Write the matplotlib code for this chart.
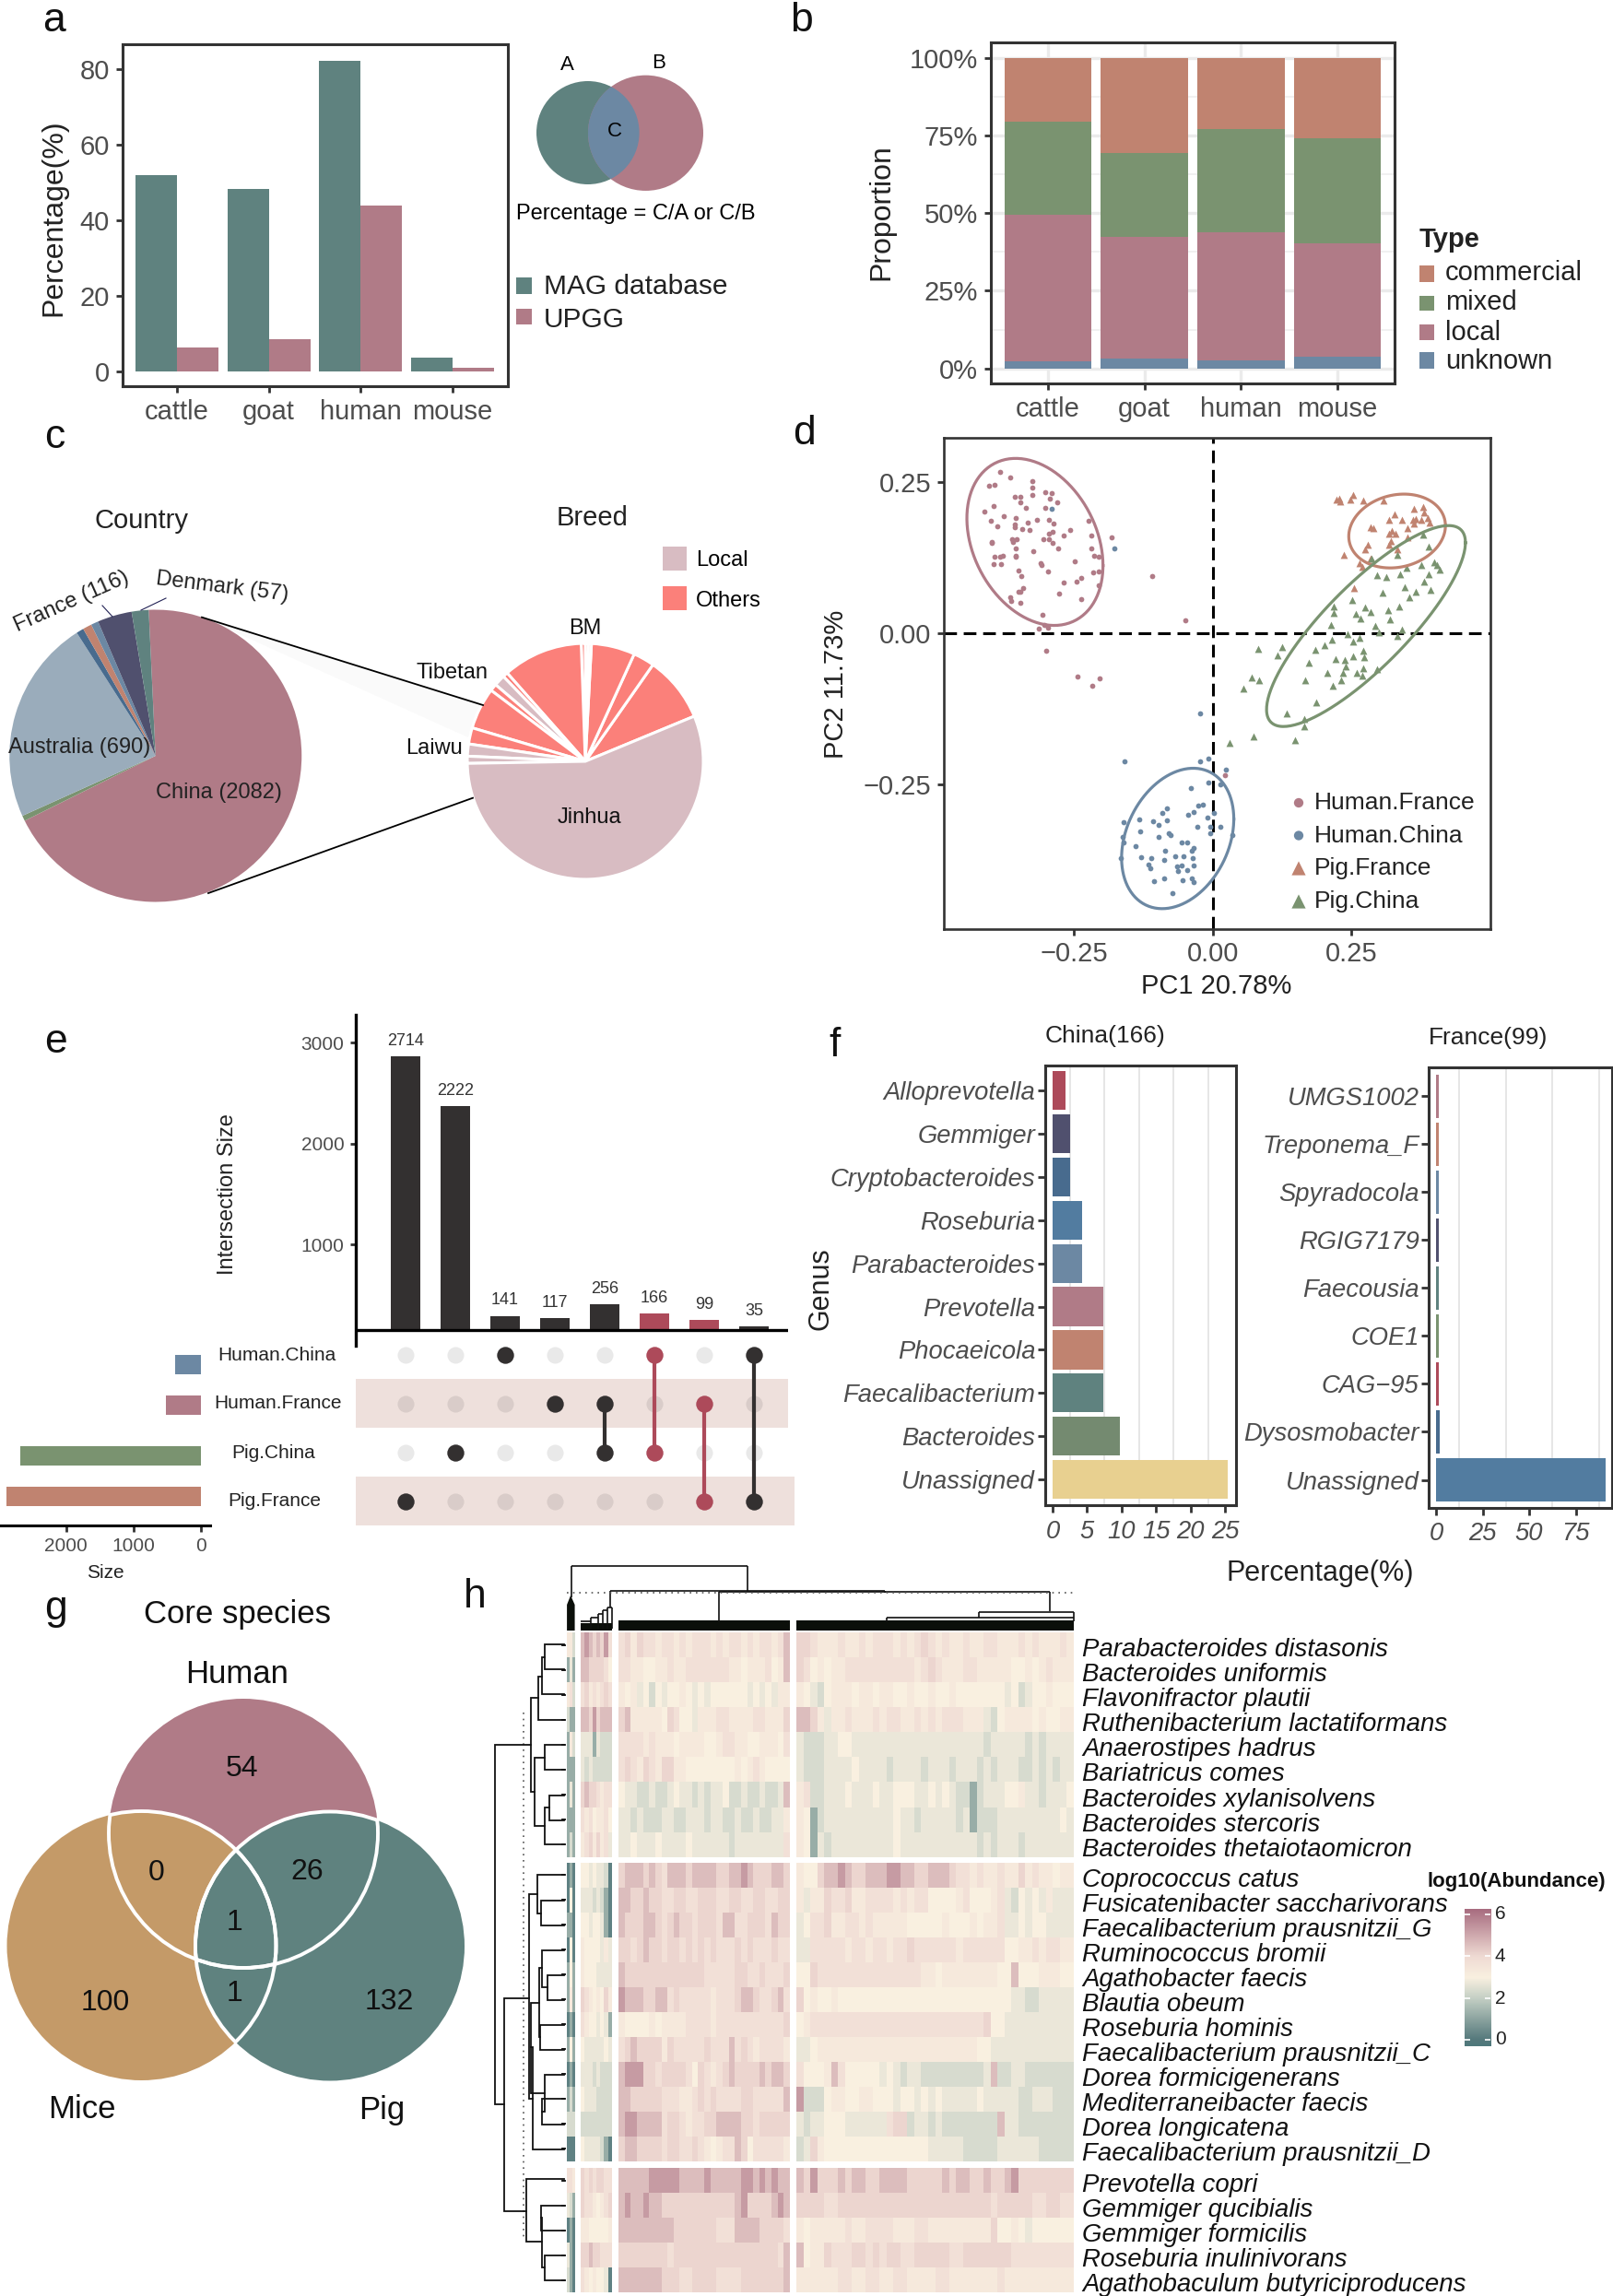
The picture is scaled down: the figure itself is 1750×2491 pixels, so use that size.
import numpy as np
import matplotlib
matplotlib.use('Agg')
import matplotlib.pyplot as plt
from matplotlib.patches import Circle, Ellipse, Rectangle, Polygon
from matplotlib.colors import LinearSegmentedColormap, Normalize

plt.rcParams['font.family'] = ['Liberation Sans', 'DejaVu Sans']

TEAL = '#5F827F'; PINK = '#B07B87'; BLUE = '#6C88A3'; GREEN = '#7A9370'; SALMON = '#C08370'
GREY = '#4D4D4D'; DARK = '#333030'; RED = '#AD4A5A'

# ---------- panel a
hosts = ['cattle', 'goat', 'human', 'mouse']
mag_pct = [52, 48.3, 82.3, 3.7]
upgg_pct = [6.3, 8.5, 44, 1.1]
# ---------- panel b
unknown = [2.2, 3.3, 2.6, 3.8]
local = [47.1, 39.0, 41.1, 36.5]
mixed = [30.0, 27.1, 33.3, 33.8]
commercial = [20.7, 30.6, 23.0, 25.9]
# ---------- panel c
country_vals = [2082, 18, 690, 25, 30, 25, 116, 57]
country_cols = [PINK, GREEN, '#9AACBB', '#486B8E', SALMON, BLUE, '#50506E', TEAL]
breed_vals = [32.5, 10.5, 21.5, 1.5, 1.5, 2, 39.5, 2.5, 5.5, 3.5, 20.5, 8, 6, 3.5, 201.5]
breed_local = [0, 0, 0, 0, 0, 0, 0, 0, 1, 0, 0, 0, 1, 1, 1]
# ---------- panel d
hf_x = [-.382,-.364,-.324,-.324,-.403,-.392,-.357,-.346,-.325,-.301,-.290,-.346,-.280,-.293,-.394,-.337,-.302,-.411,-.400,-.376,-.354,-.317,-.295,-.287,-.387,-.356,-.356,-.343,-.333,-.330,-.224,-.295,-.288,-.257,-.268,-.218,-.182,-.398,-.398,-.361,-.353,-.360,-.304,-.295,-.288,-.354,-.218,-.278,-.323,-.393,-.383,-.378,-.354,-.354,-.214,-.205,-.395,-.381,-.309,-.308,-.248,-.350,-.297,-.205,-.215,-.344,-.237,-.245,-.268,-.206,-.341,-.350,-.347,-.277,-.365,-.363,-.237,-.347,-.306,-.303,-.313,-.297,-.299,-.244,-.217,-.203,-.109,-.050,.022]
hf_y = [.266,.257,.252,.240,.244,.246,.225,.225,.229,.233,.232,.217,.217,.222,.210,.207,.207,.201,.186,.194,.190,.188,.187,.181,.177,.180,.176,.172,.183,.171,.186,.165,.168,.170,.161,.161,.159,.151,.149,.156,.155,.151,.155,.156,.150,.141,.141,.141,.136,.126,.126,.128,.128,.126,.128,.127,.114,.115,.116,.113,.119,.104,.102,.102,.101,.095,.092,.086,.084,.079,.074,.069,.068,.066,.060,.054,.057,.050,.030,.014,.007,.009,-.029,-.071,-.087,-.075,.094,.021,-.235]
hc_x = [-.290,-.177,-.023,-.158,-.023,-.007,.023,-.007,.013,-.040,-.026,-.017,-.083,-.090,-.045,-.034,.002,-.009,-.133,-.108,-.083,-.161,-.097,-.027,.014,-.130,-.005,-.005,-.079,-.075,-.098,-.162,.035,-.160,-.056,-.046,-.139,-.034,-.037,-.085,-.067,-.129,-.111,-.166,-.087,-.053,-.036,-.116,-.113,-.065,-.056,-.035,-.063,-.046,-.106,-.088,-.054,-.037,-.035,-.072]
hc_y = [.206,.140,-.133,-.211,-.211,-.207,-.226,-.246,-.250,-.256,-.284,-.283,-.289,-.297,-.300,-.296,-.297,-.304,-.307,-.310,-.309,-.312,-.316,-.319,-.320,-.327,-.320,-.330,-.330,-.334,-.337,-.337,-.334,-.345,-.345,-.345,-.351,-.355,-.360,-.360,-.368,-.370,-.372,-.372,-.374,-.368,-.372,-.382,-.388,-.385,-.383,-.383,-.393,-.392,-.409,-.405,-.408,-.405,-.411,-.429]
pf_x = [.228,.223,.230,.253,.248,.271,.307,.327,.362,.379,.381,.318,.341,.360,.366,.375,.387,.391,.362,.284,.290,.350,.323,.318,.329,.350,.321,.317,.280,.274,.236,.285,.265,.269,.332,.255]
pf_y = [.222,.221,.218,.229,.221,.220,.219,.197,.205,.209,.199,.187,.187,.188,.189,.188,.190,.183,.182,.176,.173,.174,.169,.165,.164,.158,.153,.147,.147,.138,.129,.124,.116,.110,.138,.074]
pc_x = [.379,.389,.333,.286,.376,.399,.403,.349,.337,.296,.313,.409,.389,.380,.346,.392,.365,.306,.354,.251,.218,.336,.275,.315,.285,.218,.257,.266,.319,.213,.293,.340,.300,.332,.243,.215,.265,.253,.125,.082,.202,.185,.117,.271,.272,.252,.222,.238,.173,.240,.296,.271,.206,.259,.234,.270,.071,.084,.167,.231,.216,.056,.186,.134,.164,.164,.074,.149,.030]
pc_y = [.163,.144,.129,.123,.113,.118,.113,.108,.098,.096,.093,.105,.098,.086,.076,.072,.069,.067,.060,.055,.044,.044,.043,.038,.035,.033,.032,.024,.023,.014,.013,.006,.002,-.005,-.002,-.011,-.008,-.014,-.022,-.026,-.020,-.027,-.036,-.029,-.039,-.038,-.042,-.044,-.048,-.055,-.059,-.058,-.065,-.065,-.066,-.070,-.073,-.077,-.078,-.078,-.087,-.092,-.114,-.132,-.141,-.153,-.170,-.176,-.181]
# centre x, centre y, half range x, half range y, correlation
ell_hf = (-.320, .151, .1225, .138, -.283)
ell_hc = (-.063, -.339, .101, .116, .277)
ell_pf = (.332, .169, .087, .061, .143)
ell_pc = (.276, .012, .179, .166, .83)
# ---------- panel e
inter_sizes = [2714, 2222, 141, 117, 256, 166, 99, 35]
inter_sets = [[3], [2], [0], [1], [1, 2], [0, 2], [1, 3], [0, 3]]
inter_red = [0, 0, 0, 0, 0, 1, 1, 0]
set_names = ['Human.China', 'Human.France', 'Pig.China', 'Pig.France']
set_sizes = [380, 520, 2683, 2889]
# ---------- panel f
cn_genus = ['Alloprevotella', 'Gemmiger', 'Cryptobacteroides', 'Roseburia', 'Parabacteroides', 'Prevotella', 'Phocaeicola', 'Faecalibacterium', 'Bacteroides', 'Unassigned']
cn_pct = [1.9, 2.5, 2.5, 4.3, 4.3, 7.4, 7.4, 7.4, 9.8, 25.3]
cn_cols = [RED, '#50506E', '#486B8E', '#527CA0', BLUE, PINK, SALMON, TEAL, '#748A70', '#E8D090']
fr_genus = ['UMGS1002', 'Treponema_F', 'Spyradocola', 'RGIG7179', 'Faecousia', 'COE1', 'CAG\u221295', 'Dysosmobacter', 'Unassigned']
fr_pct = [1.2, 1.2, 1.2, 1.2, 1.2, 1.2, 1.2, 2.0, 90.8]
fr_cols = [PINK, SALMON, BLUE, '#50506E', TEAL, GREEN, RED, '#486B8E', '#527CA0']
# ---------- panel h (one digit per stripe, read as abundance level)
species = [['Parabacteroides distasonis', 'Bacteroides uniformis', 'Flavonifractor plautii', 'Ruthenibacterium lactatiformans', 'Anaerostipes hadrus', 'Bariatricus comes', 'Bacteroides xylanisolvens', 'Bacteroides stercoris', 'Bacteroides thetaiotaomicron'],
           ['Coprococcus catus', 'Fusicatenibacter saccharivorans', 'Faecalibacterium prausnitzii_G', 'Ruminococcus bromii', 'Agathobacter faecis', 'Blautia obeum', 'Roseburia hominis', 'Faecalibacterium prausnitzii_C', 'Dorea formicigenerans', 'Mediterraneibacter faecis', 'Dorea longicatena', 'Faecalibacterium prausnitzii_D'],
           ['Prevotella copri', 'Gemmiger qucibialis', 'Gemmiger formicilis', 'Roseburia inulinivorans', 'Agathobaculum butyriciproducens']]
level_abundance = [0.2, 1.2, 2.35, 2.7, 3.0, 3.3, 3.7, 4.1, 4.6, 5.3]
hm_a = [['552','131','562','211','152','111','131','111','121'],
        ['010','040','110','040','141','151','010','141','010','121','222','000'],
        ['665','321','010','310','210']]
hm_b = [['89878796','88777764','67565676','88797888','33313222','32322222','78776566','65645564','56757563'],
        ['44343320','33323210','44344310','54444353','54443333','76545475','65443431','43333343','33323222','43332222','22222222','43333210'],
        ['76767766','76654567','55444445','77877666','65454430']]
hm_c = [['6757665665656665656656566568','6655445565566666665545556458','5453424344543434444443434355','7855555476443555665555665557','6666565554555544566554455546','6765765775544444444545654444','4332232234332323342232232238','3323222332233323322322322335','3343334333343333332333333336'],
        ['7888787688878888778898777887','8877877667766777667766776677','8777887678776777688667776877','7767877677676767666767666766','8777777777777766666776676667','9888778867666665666788766786','5444454555566665666666666667','6787777576666676668676566665','8999776777764765678777787887','8877777666556767666677666668','8998888677656677888877677777','7887777677667654566874666665'],
        ['8888899999888898888899898988','8988988777777777777897777898','8888888887777777666888877776','7777777767777777777777777768','8888888777667777666677777778']]
hm_d = [['7765556556566656567656556556655565655565','7645455666666666656765556655555445456555','5432455545545544544544544444443423445444','8875355655565665565656665553245555454455','3222334433333333333333333332333332323333','3222333343333233332333233323233322323233','5622333433343344433434322123334453323334','5412333333333343323333323122233333333343','5413233333333343333333333323233323333333'],
        ['5447889877888998877888766565565575655455','5355766755666656566444456444563243435333','3466755665655555444445444545563343443333','3366666566566566766666656666664455656655','4476666666666666665545555555544844455544','7454454444444444444444444444444332233333','4566666666666666666666666667443333333333','3345555555555555555555555544333333333333','6444586444443432332222222223822332222222','9222455445544434434343333343333322333222','3233444333333677233232222222283322222222','2375444444444444444333332222233333322222'],
        ['8797778788778888777778788778778977777777','7777667777777777777777777777677777667766','5455555655666655566555555555744543444444','8455766677676776677777667777777666666666','5555556655665566555566555555565555555555']]

W, H = 1750, 2491
fig = plt.figure(figsize=(W / 100, H / 100), dpi=100)


def axpx(l, t, r, b, **kw):
    return fig.add_axes([l / W, 1 - b / H, (r - l) / W, (b - t) / H], **kw)


def style(ax, size=21, lw=2.2, length=5, pad=5):
    for s in ax.spines.values():
        s.set_linewidth(lw)
        s.set_color('#333333')
    ax.tick_params(width=2, length=length, labelsize=size, labelcolor=GREY, color='#333333', pad=pad)


ov = fig.add_axes([0, 0, 1, 1], zorder=50)
ov.set_xlim(0, W)
ov.set_ylim(H, 0)
ov.axis('off')
ov.patch.set_alpha(0)


def T(x, y, s, size=21, **kw):
    kw.setdefault('ha', 'center')
    kw.setdefault('va', 'center')
    ov.text(x, y + 3, s, fontsize=size, **kw)


for x, y, s in [(59, 19, 'a'), (870, 19, 'b'), (59, 472, 'c'), (872, 467, 'd'), (60, 1127, 'e'),
                (906, 1131, 'f'), (61, 1742, 'g'), (515, 1730, 'h')]:
    T(x, y, s, 32, color='#111111')

# ===== a
ax = axpx(133, 48, 551, 419)
xp = np.arange(4)
ax.bar(xp - .225, mag_pct, .45, color=TEAL)
ax.bar(xp + .225, upgg_pct, .45, color=PINK)
ax.set_xlim(-.59, 3.6)
ax.set_ylim(-3.9, 86.6)
ax.set_xticks(xp, hosts)
ax.set_yticks([0, 20, 40, 60, 80])
style(ax)
T(58, 233, 'Percentage(%)', 23, rotation=90, color='#222222')
ov.add_patch(Rectangle((560, 301), 16.5, 18, fc=TEAL))
ov.add_patch(Rectangle((560, 335), 16.5, 17, fc=PINK))
T(590, 308, 'MAG database', 21.5, ha='left', color='#222222')
T(590, 344, 'UPGG', 21.5, ha='left', color='#222222')
ov.add_patch(Ellipse((637.8, 144), 111.6, 112, fc=TEAL, lw=0))
ov.add_patch(Ellipse((700.5, 144.3), 125, 125.3, fc=PINK, lw=0))
lens = Ellipse((637.8, 144), 111.6, 112, fc=BLUE, lw=0)
ov.add_patch(lens)
lens.set_clip_path(Ellipse((700.5, 144.3), 125, 125.3, transform=ov.transData))
T(615, 68, 'A', 16)
T(715, 66, 'B', 16)
T(667, 140, 'C', 16)
T(690, 229, 'Percentage = C/A or C/B', 17)

# ===== b
ax = axpx(1075, 46, 1513, 416)
ax.set_axisbelow(True)
ax.set_yticks([12.5, 37.5, 62.5, 87.5], minor=True)
ax.grid(True, which='minor', axis='y', color='#EFEFEF', lw=1.2)
ax.grid(True, which='major', color='#EBEBEB', lw=2.4)
bot = np.zeros(4)
for vals, col in [(unknown, BLUE), (local, PINK), (mixed, GREEN), (commercial, SALMON)]:
    ax.bar(xp, vals, .9, bottom=bot, color=col)
    bot += np.array(vals)
ax.set_xlim(-.59, 3.59)
ax.set_ylim(-4.83, 104.9)
ax.set_xticks(xp, hosts)
ax.set_yticks([0, 25, 50, 75, 100], ['0%', '25%', '50%', '75%', '100%'])
style(ax)
ax.tick_params(axis='y', which='minor', length=0)
T(956, 227, 'Proportion', 23, rotation=90, color='#222222')
T(1539.6, 257, 'Type', 21, ha='left', fontweight='bold', color='#222222')
for name, col, ytxt, y0, y1 in [('commercial', SALMON, 293, 288, 305.7), ('mixed', GREEN, 325, 320.7, 337),
                                ('local', PINK, 358, 351.7, 369), ('unknown', BLUE, 389, 382, 399.7)]:
    ov.add_patch(Rectangle((1539.6, y0), 16.8, y1 - y0, fc=col))
    T(1567.8, ytxt, name, 21, ha='left', color='#222222')

# ===== c
ov.add_patch(Polygon([(222, 671), (524, 765), (508, 800)], fc='#FAFAFA', lw=0, zorder=0))
ax = axpx(168.75 - 158.5, 820 - 158.5, 168.75 + 158.5, 820 + 158.5, zorder=60)
ax.pie(country_vals, colors=country_cols, startangle=92.7, counterclock=False, radius=1)
ax.set_xlim(-1, 1)
ax.set_ylim(-1, 1)
ax = axpx(635 - 128, 826 - 128, 635 + 128, 826 + 128, zorder=60)
ax.pie(breed_vals, colors=['#D8BCC2' if b else '#FB807A' for b in breed_local], startangle=22.5,
       counterclock=True, radius=1, wedgeprops=dict(edgecolor='white', linewidth=2.2))
ax.set_xlim(-1, 1)
ax.set_ylim(-1, 1)
ov2 = fig.add_axes([0, 0, 1, 1], zorder=70)
ov2.set_xlim(0, W)
ov2.set_ylim(H, 0)
ov2.axis('off')
ov2.patch.set_alpha(0)
ov2.plot([219, 524], [669.7, 765], color='k', lw=1.3)
ov2.plot([226, 513], [969, 865.7], color='k', lw=1.3)
ov2.plot([111, 122], [657, 669], color='#222255', lw=.8)
ov2.plot([153, 180], [662, 649], color='#222255', lw=.8)
for x, y, s, sz, rot, col in [(154, 562, 'Country', 21, 0, '#222222'), (643, 559, 'Breed', 21, 0, '#222222'),
                              (237, 857, 'China (2082)', 17, 0, '#222222'), (86, 808, 'Australia (690)', 17, 0, '#222222'),
                              (77.5, 650, 'France (116)', 17, 24, '#222222'), (241, 634, 'Denmark (57)', 17, -7, '#222222'),
                              (635, 679, 'BM', 17, 0, '#111111'), (491, 727, 'Tibetan', 17, 0, '#111111'),
                              (471, 809, 'Laiwu', 17, 0, '#111111'), (639, 884, 'Jinhua', 17, 0, '#111111')]:
    ov2.text(x, y + 3, s, fontsize=sz, rotation=rot, color=col, ha='center', va='center')
ov.add_patch(Rectangle((719, 593), 26, 26, fc='#D8BCC2'))
ov.add_patch(Rectangle((719, 636), 26, 26, fc='#FB807A'))
T(755, 605, 'Local', 17, ha='left')
T(755, 649.5, 'Others', 17, ha='left')

# ===== d
ax = axpx(1024, 475, 1617, 1007.5)
ax.axhline(0, color='k', lw=2.2, ls=(0, (4.5, 2.4)), zorder=1)
ax.axvline(0, color='k', lw=2.2, ls=(0, (4.5, 2.4)), zorder=1)
ax.scatter(hf_x, hf_y, s=17, color=PINK, lw=0, zorder=3)
ax.scatter(hc_x, hc_y, s=17, color=BLUE, lw=0, zorder=3)
ax.scatter(pf_x, pf_y, s=32, marker='^', color=SALMON, lw=0, zorder=3)
ax.scatter(pc_x, pc_y, s=32, marker='^', color=GREEN, lw=0, zorder=3)
tt = np.linspace(0, 2 * np.pi, 200)
for (cx, cy, rx, ry, rho), col in [(ell_hf, PINK), (ell_hc, BLUE), (ell_pf, SALMON), (ell_pc, GREEN)]:
    ax.plot(cx + rx * np.cos(tt), cy + ry * np.cos(tt - np.arccos(rho)), color=col, lw=2.3, zorder=4)
ax.set_xlim(-.484, .5)
ax.set_ylim(-.488, .323)
ax.set_xticks([-.25, 0, .25], ['\u22120.25', '0.00', '0.25'])
ax.set_yticks([-.25, 0, .25], ['\u22120.25', '0.00', '0.25'])
style(ax, lw=1.9)
T(1320, 1067, 'PC1 20.78%', 21, color='#222222')
T(907, 739, 'PC2 11.73%', 21, rotation=90, color='#222222')
for name, ytxt in zip(['Human.France', 'Human.China', 'Pig.France', 'Pig.China'], [868, 903.5, 939, 975]):
    T(1426, ytxt, name, 19, ha='left', color='#222222')
ov.scatter([1409, 1409], [871, 906.5], s=55, color=[PINK, BLUE], lw=0)
ov.scatter([1409, 1409], [942, 978], s=120, marker='^', color=[SALMON, GREEN], lw=0)

# ===== e
TICK_OFFSET = 150  # the printed y labels sit 150 above the bar scale in the source figure
ax = axpx(386, 1101, 855, 1460)
xi = np.arange(8)
cols = [RED if r else DARK for r in inter_red]
ax.bar(xi, inter_sizes, .6, color=cols)
for i, v in enumerate(inter_sizes):
    ax.annotate(str(v), (i, v), xytext=(0, 6), textcoords='offset points', ha='center', va='bottom', fontsize=13, color='#333333')
ax.axhline(0, color='k', lw=2.4)
ax.set_xlim(-1, 7.685)
ax.set_ylim(-155.5, 3129)
ax.set_xticks([])
ax.set_yticks([t - TICK_OFFSET for t in (1000, 2000, 3000)], ['1000', '2000', '3000'])
for s in ('top', 'right', 'bottom'):
    ax.spines[s].set_visible(False)
style(ax, size=15, lw=2.4, length=4, pad=5)
ax.spines['left'].set_color('k')
ax.patch.set_alpha(0)
T(247, 1293, 'Intersection Size', 17, rotation=90, color='#222222')

ax = axpx(386, 1460, 862, 1660)
ax.set_xlim(-1, 7.815)
ax.set_ylim(3.59, -.18)
ax.axis('off')
ax.add_patch(Rectangle((-1, .5), 8.685, 1, fc='#EEE0DC', lw=0))
ax.add_patch(Rectangle((-1, 2.5), 8.815, 1, fc='#EEE0DC', lw=0))
for i in xi:
    ax.scatter([i] * 4, range(4), s=170, color='k', alpha=.085, lw=0, zorder=2)
    c = RED if inter_red[i] else DARK
    ax.plot([i] * len(inter_sets[i]), inter_sets[i], color=c, lw=3, zorder=3)
    ax.scatter([i] * len(inter_sets[i]), inter_sets[i], s=175, color=c, lw=0, zorder=4)

for name, x, y in zip(set_names, [300, 301, 297, 298], [1467, 1520, 1573, 1626]):
    T(x, y, name, 15, color='#222222')

ax = axpx(0, 1440, 228, 1654.6)
size_y = [1480, 1524, 1579, 1623.4]
ax.barh(size_y, set_sizes, height=21, color=[BLUE, PINK, GREEN, SALMON])
ax.set_xlim(2985, -143)
ax.set_ylim(1654.6, 1440)
ax.set_xticks([0, 1000, 2000])
ax.set_yticks([])
for s in ('top', 'right', 'left'):
    ax.spines[s].set_visible(False)
style(ax, size=15, lw=2.2, length=5)
ax.spines['bottom'].set_color('k')
ax.patch.set_alpha(0)
T(114, 1703, 'Size', 15, color='#222222')

# ===== f
ax = axpx(1133.6, 1155.6, 1340.6, 1633.3)
ax.set_axisbelow(True)
ax.vlines([2.5, 7.5, 12.5, 17.5, 22.5], -1, 10, color='#E6E6E6', lw=1.4, zorder=0)
ax.barh(range(10), cn_pct, .9, color=cn_cols)
ax.set_xlim(-1.12, 26.5)
ax.set_ylim(9.6, -.584)
ax.set_yticks(range(10), cn_genus, style='italic')
ax.set_xticks([0, 5, 10, 15, 20, 25])
for l in ax.get_xticklabels():
    l.set_style('italic')
style(ax, size=19.7, length=6)
ax.tick_params(axis='y', pad=1.5)
ax = axpx(1550, 1158, 1749, 1635.7)
ax.set_axisbelow(True)
ax.vlines([12.5, 37.5, 62.5, 87.5], -1, 10, color='#E6E6E6', lw=1.4, zorder=0)
ax.barh(range(9), fr_pct, .9, color=fr_cols)
ax.set_xlim(-4, 94.5)
ax.set_ylim(8.58, -.6)
ax.set_yticks(range(9), fr_genus, style='italic')
ax.set_xticks([0, 25, 50, 75])
for l in ax.get_xticklabels():
    l.set_style('italic')
style(ax, size=19.7, length=6)
ax.tick_params(axis='y', pad=1.5)
T(1134, 1121, 'China(166)', 19, ha='left', color='#222222')
T(1550, 1123, 'France(99)', 19, ha='left', color='#222222')
T(890, 1395, 'Genus', 22, rotation=90, color='#222222')
T(1432, 1704, 'Percentage(%)', 22, color='#222222')

# ===== g
TAN = '#C49A68'
hum, mic, pig = ((264, 1989), 146), ((153.5, 2111), 146), ((358, 2111.5), 146)
ov.add_patch(Circle(hum[0], hum[1], fc=PINK, lw=0))
ov.add_patch(Circle(mic[0], mic[1], fc=TAN, lw=0))
ov.add_patch(Circle(pig[0], pig[1], fc=TEAL, lw=0))
for ring, clips in [(hum, (mic, pig)), (mic, (hum, pig)), (pig, (hum, mic))]:
    for clip in clips:
        p = Circle(ring[0], ring[1], fc='none', ec='white', lw=2.8)
        ov.add_patch(p)
        p.set_clip_path(Circle(clip[0], clip[1] + 1, transform=ov.transData))
T(257, 1748, 'Core species', 25, color='#111111')
T(257, 1813, 'Human', 25, color='#111111')
T(89, 2286, 'Mice', 25, color='#111111')
T(414, 2286, 'Pig', 25, color='#111111')
for x, y, s in [(263, 1916, '54'), (170, 2029, '0'), (333, 2028, '26'), (255, 2083, '1'), (254, 2160, '1'),
                (114, 2170, '100'), (422, 2169, '132')]:
    T(x, y, s, 23, color='#111111')

# ===== h
cmap = LinearSegmentedColormap.from_list('abund', [(0, '#4F787B'), (.046, '#55797C'), (.351, '#C5D0C5'),
                                                   (.5, '#F9F0E0'), (.656, '#EFDAD3'), (1, '#A86D80')])
norm = Normalize(-.3, 6.25)
col_blocks = [(615, 623.5, hm_a), (630, 664, hm_b), (671, 857, hm_c), (864, 1165, hm_d)]
row_blocks = [(1771, 2014.7), (2021, 2344.7), (2352, 2487)]
for l, r, block in col_blocks:
    for g, (t, b) in enumerate(row_blocks):
        ax = axpx(l, t, r, b)
        rows = block[g]
        for i, row in enumerate(rows):
            vals = np.array([level_abundance[int(c)] for c in row])
            ax.pcolormesh(np.linspace(0, 1, len(vals) + 1), [i, i + 1], vals[None, :], cmap=cmap, norm=norm,
                          edgecolors='none', antialiased=False)
        ax.set_xlim(0, 1)
        ax.set_ylim(len(rows), 0)
        ax.axis('off')
for g, (t, b) in enumerate(row_blocks):
    n = len(species[g])
    for i, name in enumerate(species[g]):
        yc = t + (b - t) * (i + .5) / n
        T(1174.5, yc + 2.5, name, 19.9, ha='left', style='italic', color='#111111')
        ov.plot([610, 612.8], [yc, yc], color='k', lw=1.3)

tx = lambda v: 520 + v / 2.24
ty = lambda v: 1690 + v / 1.96
# top dendrogram
for x0, y0, x1, y1 in [(223, 17, 651, 17), (223, 17, 223, 85), (651, 17, 651, 70), (317, 70, 985, 70), (317, 70, 317, 105),
                       (985, 70, 985, 74), (583, 73, 1386, 73), (583, 73, 583, 135), (1386, 73, 1386, 114),
                       (1215, 115, 1444, 115), (1215, 115, 1215, 127), (1444, 115, 1444, 135), (990, 128, 1444, 128),
                       (990, 128, 990, 135), (246, 135, 270, 135), (270, 128, 288, 128), (288, 120, 300, 120), (300, 112, 312, 112), (312, 105, 323, 105),
                       (270, 128, 270, 150), (288, 120, 288, 150), (300, 112, 300, 150), (312, 105, 312, 150), (323, 105, 323, 150)]:
    ov.plot([tx(x0), tx(x1)], [ty(y0), ty(y1)], color='#111111', lw=1.2, solid_capstyle='butt')
ov.add_patch(Polygon([(tx(213), ty(155)), (tx(213), ty(100)), (tx(222), ty(80)), (tx(232), ty(100)), (tx(232), ty(155))], fc='#0B0F0A', lw=0))
for x0, x1, y0 in [(246, 323, 140), (338, 755, 134), (771, 1444, 134)]:
    ov.add_patch(Rectangle((tx(x0), ty(y0)), tx(x1) - tx(x0), ty(155) - ty(y0), fc='#0B0F0A', lw=0))
ov.plot([tx(213), tx(1444)], [ty(75), ty(75)], color='#555555', lw=1.2, ls=(0, (1, 3)))
ov.plot([tx(108), tx(108)], [ty(330), ty(1450)], color='#555555', lw=1.2, ls=(0, (1, 3)))
# left dendrogram: bracket x, upper y, lower y, upper child x, lower child x
for x, y0, y1, c0, c1 in [(160, 185, 238, 207, 207), (152, 212, 291, 160, 207), (143, 252, 345, 152, 207),
                          (160, 398, 451, 207, 207), (171, 505, 558, 207, 207), (160, 531, 609, 171, 207),
                          (134, 425, 570, 160, 160), (125, 298, 497, 143, 134), (38, 397, 1163, 125, 60),
                          (150, 730, 782, 207, 207), (140, 675, 756, 207, 150), (165, 887, 940, 207, 207),
                          (152, 834, 913, 207, 165), (148, 993, 1047, 207, 207), (145, 873, 1020, 152, 148),
                          (153, 1151, 1205, 207, 207), (160, 1099, 1178, 207, 153), (125, 946, 1138, 145, 160),
                          (130, 1040, 1258, 125, 207), (122, 715, 1150, 140, 130), (60, 937, 1390, 122, 115),
                          (150, 1377, 1430, 207, 207), (158, 1484, 1537, 207, 207), (152, 1403, 1510, 150, 158),
                          (115, 1322, 1455, 207, 152)]:
    ov.plot([tx(c0), tx(x), tx(x), tx(c1)], [ty(y0), ty(y0), ty(y1), ty(y1)], color='#111111', lw=1.3, solid_joinstyle='miter')

ax = axpx(1588.5, 2071, 1617, 2220)
ax.imshow(np.linspace(6.25, -.3, 200)[:, None], cmap=cmap, norm=norm, aspect='auto', extent=[0, 1, -.3, 6.25])
ax.hlines([0, 2, 4, 6], 0, .22, color='white', lw=1.2)
ax.hlines([0, 2, 4, 6], .78, 1, color='white', lw=1.2)
ax.set_xlim(0, 1)
ax.set_ylim(-.3, 6.25)
ax.axis('off')
T(1548, 2038, 'log10(Abundance)', 16, ha='left', fontweight='bold', color='#111111')
for v, y in zip([0, 2, 4, 6], [2210, 2165, 2119.7, 2074]):
    T(1622, y, str(v), 15, ha='left', color='#222222')

fig.savefig('out.png', dpi=100)
